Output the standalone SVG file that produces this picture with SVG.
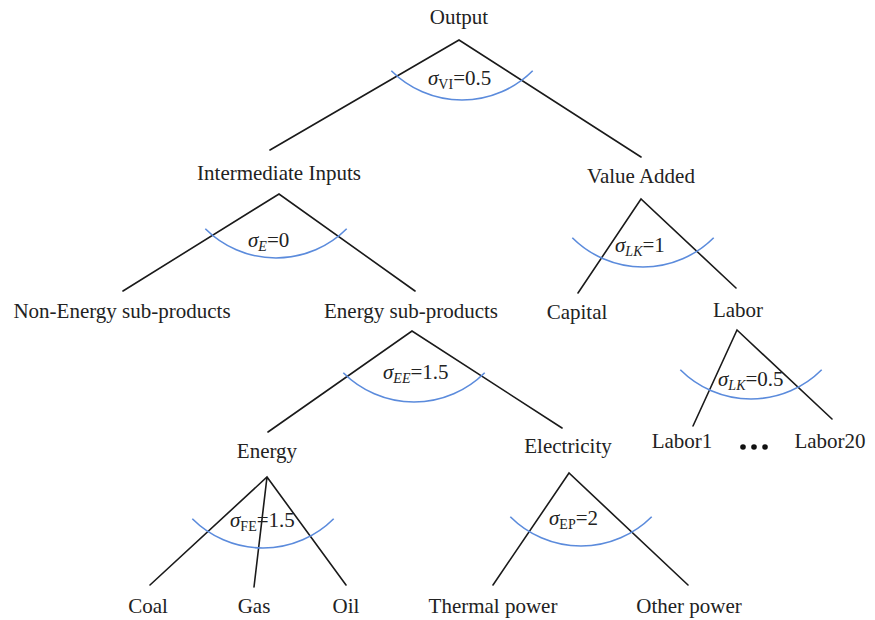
<svg xmlns="http://www.w3.org/2000/svg" xmlns:xlink="http://www.w3.org/1999/xlink" width="875" height="620" viewBox="0 0 875 620">
<style>
text{font-family:"Liberation Serif","Times New Roman",serif;fill:#222;}
.n{font-size:21px;text-anchor:middle;}
.s{font-size:21px;}
.sub{font-size:14px;}
.it{font-style:italic;}
.ln{stroke:#1a1a1a;stroke-width:1.6;fill:none;stroke-linecap:round;}
.arc{stroke:#5b8bdc;stroke-width:1.6;fill:none;}
</style>
<defs>
<path id="arc" d="M-70.7,-29.3 A100,100 0 0 0 70.7,-29.3"/>
</defs>
<rect width="875" height="620" fill="#fff"/>
<g id="connectors">
<path class="ln" d="M270,150 L459,40 L641,157"/>
<path class="ln" d="M123,291 L279,194 L415,291"/>
<path class="ln" d="M578,293 L641,199 L736,288"/>
<path class="ln" d="M268,432 L412,331 L562,428"/>
<path class="ln" d="M693,426 L737,330 L832,419"/>
<path class="ln" d="M150,585 L267,477 L346,585 M267,477 L254,587"/>
<path class="ln" d="M493,585 L569,473 L688,585"/>
</g>
<g id="arcs">
<use xlink:href="#arc" class="arc" transform="translate(462,100)"/>
<use xlink:href="#arc" class="arc" transform="translate(276,258)"/>
<use xlink:href="#arc" class="arc" transform="translate(643,267)"/>
<use xlink:href="#arc" class="arc" transform="translate(414,402)"/>
<use xlink:href="#arc" class="arc" transform="translate(751,399)"/>
<use xlink:href="#arc" class="arc" transform="translate(263,548)"/>
<use xlink:href="#arc" class="arc" transform="translate(581,546)"/>
</g>
<g id="elasticities">
<text class="s" x="428" y="85"><tspan class="it">σ</tspan><tspan class="sub" dy="4">VI</tspan><tspan dy="-4">=0.5</tspan></text>
<text class="s" x="248" y="247"><tspan class="it">σ</tspan><tspan class="sub it" dy="4">E</tspan><tspan dy="-4">=0</tspan></text>
<text class="s" x="615" y="252"><tspan class="it">σ</tspan><tspan class="sub it" dy="4">LK</tspan><tspan dy="-4">=1</tspan></text>
<text class="s" x="383" y="379"><tspan class="it">σ</tspan><tspan class="sub it" dy="4">EE</tspan><tspan dy="-4">=1.5</tspan></text>
<text class="s" x="718" y="386"><tspan class="it">σ</tspan><tspan class="sub it" dy="4">LK</tspan><tspan dy="-4">=0.5</tspan></text>
<text class="s" x="230" y="527"><tspan class="it">σ</tspan><tspan class="sub" dy="4">FE</tspan><tspan dy="-4">=1.5</tspan></text>
<text class="s" x="549" y="525"><tspan class="it">σ</tspan><tspan class="sub" dy="4">EP</tspan><tspan dy="-4">=2</tspan></text>
</g>
<g id="output"><text class="n" x="459" y="24">Output</text></g>
<g id="intermediate"><text class="n" x="279" y="180">Intermediate Inputs</text></g>
<g id="value-added"><text class="n" x="641" y="183">Value Added</text></g>
<g id="non-energy"><text class="n" x="122" y="318">Non-Energy sub-products</text></g>
<g id="energy-sub"><text class="n" x="411" y="318">Energy sub-products</text></g>
<g id="capital"><text class="n" x="577" y="319">Capital</text></g>
<g id="labor"><text class="n" x="738" y="317">Labor</text></g>
<g id="energy"><text class="n" x="267" y="458">Energy</text></g>
<g id="electricity"><text class="n" x="568" y="453">Electricity</text></g>
<g id="labor1"><text class="n" x="682" y="448">Labor1</text></g>
<g id="dots"><circle cx="743" cy="447" r="2.8" fill="#111"/><circle cx="754" cy="447" r="2.8" fill="#111"/><circle cx="765" cy="447" r="2.8" fill="#111"/></g>
<g id="labor20"><text class="n" x="830" y="448">Labor20</text></g>
<g id="coal"><text class="n" x="148" y="613">Coal</text></g>
<g id="gas"><text class="n" x="254" y="613">Gas</text></g>
<g id="oil"><text class="n" x="346" y="613">Oil</text></g>
<g id="thermal"><text class="n" x="493" y="613">Thermal power</text></g>
<g id="other"><text class="n" x="689" y="613">Other power</text></g>
</svg>
